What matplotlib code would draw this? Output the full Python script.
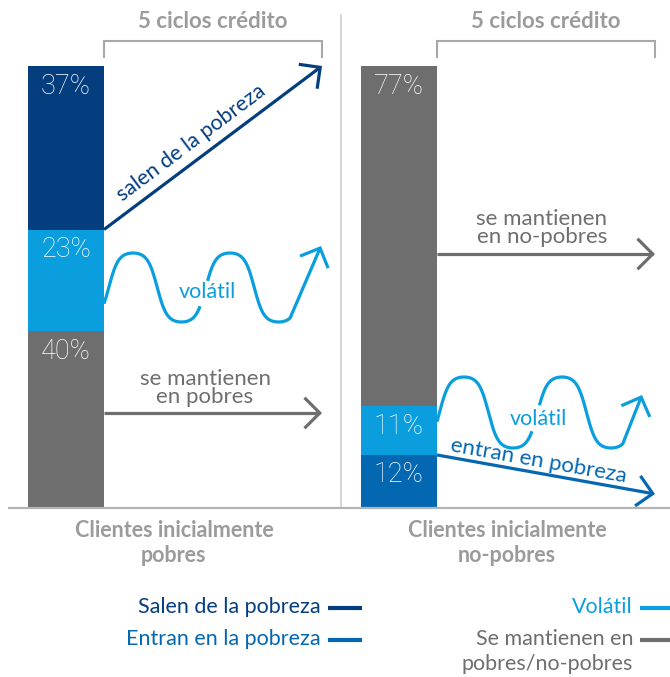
import numpy as np
import matplotlib
matplotlib.use("Agg")
import matplotlib.pyplot as plt
from matplotlib.patches import FancyArrowPatch
from matplotlib.path import Path

plt.rcParams['font.family'] = ['Lato', 'DejaVu Sans']

# ---- data -------------------------------------------------------------
groups = ["Clientes inicialmente\npobres", "Clientes inicialmente\nno-pobres"]
# shares in %, stacked from the baseline upwards
poor_segments = ["se mantienen", "volátil", "salen"]
poor_values = [40, 23, 37]
nonpoor_segments = ["entran", "volátil", "se mantienen"]
nonpoor_values = [12, 11, 77]

period_label = "5 ciclos crédito"
legend_left = ["Salen de la pobreza", "Entran en la pobreza"]
legend_right = ["Volátil", "Se mantienen en\npobres/no-pobres"]

# ---- style ------------------------------------------------------------
NAVY = "#043E7E"
MID = "#0467B2"
LIGHT = "#0A9EDF"
GREY = "#6E6E6E"
LABEL_GREY = "#9B9B9B"
RULE = "#B4B4B4"

poor_colors = [GREY, LIGHT, NAVY]
nonpoor_colors = [MID, LIGHT, GREY]

W, H = 670, 677
BASE = 508          # baseline row (px from top)
SCALE = 4.42        # pixels per percentage point
FS = 15.5


def yp(row):
    """Convert a pixel row (from the top) into axis units."""
    return (BASE - row) / SCALE


fig = plt.figure(figsize=(W / 100, H / 100), dpi=100)
ax = fig.add_axes([0, 0, 1, 1])
ax.set_xlim(0, W)
ax.set_ylim(yp(H), yp(0))
ax.axis("off")

bar_x = [66, 399]
bar_w = 76
span = 218          # horizontal reach of the flow arrows

HEAD = "->,head_length=11,head_width=11"


def arrow_path(xs, ys, color, lw=2.3):
    p = FancyArrowPatch(path=Path(np.column_stack([xs, ys])), arrowstyle=HEAD,
                        mutation_scale=1, color=color, lw=lw,
                        capstyle="butt", joinstyle="miter")
    ax.add_patch(p)


def wave(x0, x_peak, period, mid, amp, tip, gap, color, k=1.5):
    trough1 = x_peak + period / 2
    trough2 = x_peak + 1.5 * period
    x_end = trough2 + 0.12 * period
    x = np.linspace(x0, x_end, 400)
    ph = np.pi / 2 + 2 * np.pi * (x - x_peak) / period
    y = mid + amp * np.tanh(k * np.sin(ph)) / np.tanh(k)
    g0, g1 = trough1 + gap[0], trough1 + gap[1]
    first = x < g0
    second = x > g1
    ax.plot(x[first], y[first], color=color, lw=2.3, solid_capstyle="butt")
    xs = np.append(x[second], tip[0])
    ys = np.append(y[second], tip[1])
    arrow_path(xs, ys, color)


# ---- stacked bars -------------------------------------------------------
for xc, vals, cols in [(bar_x[0], poor_values, poor_colors),
                       (bar_x[1], nonpoor_values, nonpoor_colors)]:
    bottom = 0
    for v, c in zip(vals, cols):
        ax.bar(xc, v, width=bar_w, bottom=bottom, color=c, linewidth=0, zorder=2)
        ax.text(xc, bottom + v - 20 / SCALE, f"{v}%", ha="center", va="center",
                color="white", fontsize=19.5, fontweight="light",
                family=["Roboto", "DejaVu Sans"], zorder=3)
        bottom += v

# baseline and divider
ax.plot([8, W], [0, 0], color=RULE, lw=1.6, zorder=4, solid_capstyle="butt")
ax.plot([341, 341], [0, yp(15)], color="#CFCFCF", lw=1.2, zorder=1)

# ---- period brackets ------------------------------------------------------
for xc in bar_x:
    x0 = xc + bar_w / 2
    x1 = x0 + span
    ax.plot([x0, x0, x1, x1], [yp(57), yp(41), yp(41), yp(57)],
            color="#A8A8A8", lw=1.5, solid_joinstyle="miter")
    ax.text((x0 + x1) / 2, yp(22), period_label, ha="center", va="center",
            color=LABEL_GREY, fontsize=16, fontweight="bold")

# ---- flows for the initially poor -----------------------------------------
lx0 = bar_x[0] + bar_w / 2
top_vol = poor_values[0] + poor_values[1]
arrow_path([lx0, lx0 + span], [top_vol, 100], NAVY)
p0 = ax.transData.transform((lx0, top_vol))
p1 = ax.transData.transform((lx0 + span, 100))
ang = np.degrees(np.arctan2(p1[1] - p0[1], p1[0] - p0[0]))
ax.text(191, yp(143), "salen de la pobreza", rotation=ang, rotation_mode="anchor",
        ha="center", va="center", color=NAVY, fontsize=FS)

wave(lx0, 133, 97, yp(287.5), 34.5 / SCALE, (lx0 + span - 1, yp(246)), (19, 26), LIGHT)
ax.text(207, yp(292), "volátil", ha="center", va="center", color=LIGHT, fontsize=FS)

arrow_path([lx0, lx0 + span], [yp(413), yp(413)], GREY)
ax.text(205, yp(388), "se mantienen\nen pobres", ha="center", va="center",
        color=GREY, fontsize=16, linespacing=0.88)

# ---- flows for the initially non-poor ------------------------------------
rx0 = bar_x[1] + bar_w / 2
arrow_path([rx0, rx0 + span], [yp(254), yp(254)], GREY)
ax.text(542, yp(228), "se mantienen\nen no-pobres", ha="center", va="center",
        color=GREY, fontsize=16, linespacing=0.88)

wave(rx0, 464, 98, yp(412.5), 35.5 / SCALE, (642, yp(395)), (19, 26), LIGHT)
ax.text(538, yp(419), "volátil", ha="center", va="center", color=LIGHT, fontsize=FS)

arrow_path([rx0, rx0 + span], [nonpoor_values[0], yp(494)], MID)
q0 = ax.transData.transform((rx0, nonpoor_values[0]))
q1 = ax.transData.transform((rx0 + span, yp(494)))
ang2 = np.degrees(np.arctan2(q1[1] - q0[1], q1[0] - q0[0]))
ax.text(539, yp(461), "entran en pobreza", rotation=ang2, rotation_mode="anchor",
        ha="center", va="center", color=MID, fontsize=16)

# ---- group captions ---------------------------------------------------------
for xc, g in zip([174, 507], groups):
    ax.text(xc, yp(543), g, ha="center", va="center", color=LABEL_GREY,
            fontsize=15.5, fontweight="bold", linespacing=1.25)

# ---- legend -----------------------------------------------------------------
for txt, col, row in zip(legend_left, [NAVY, MID], [607, 639]):
    ax.text(321, yp(row), txt, ha="right", va="center", color=col, fontsize=FS)
    ax.plot([328, 362], [yp(row + 1), yp(row + 1)], color=col, lw=3, solid_capstyle="butt")

ax.text(633, yp(607), legend_right[0], ha="right", va="center", color=LIGHT, fontsize=FS)
ax.plot([640, 670], [yp(608), yp(608)], color=LIGHT, lw=3, solid_capstyle="butt")
for line, row in zip(legend_right[1].split("\n"), [639, 664]):
    ax.text(633, yp(row), line, ha="right", va="center", color=GREY, fontsize=FS)
ax.plot([640, 670], [yp(640), yp(640)], color=GREY, lw=3, solid_capstyle="butt")

fig.savefig("out.png", dpi=100)
